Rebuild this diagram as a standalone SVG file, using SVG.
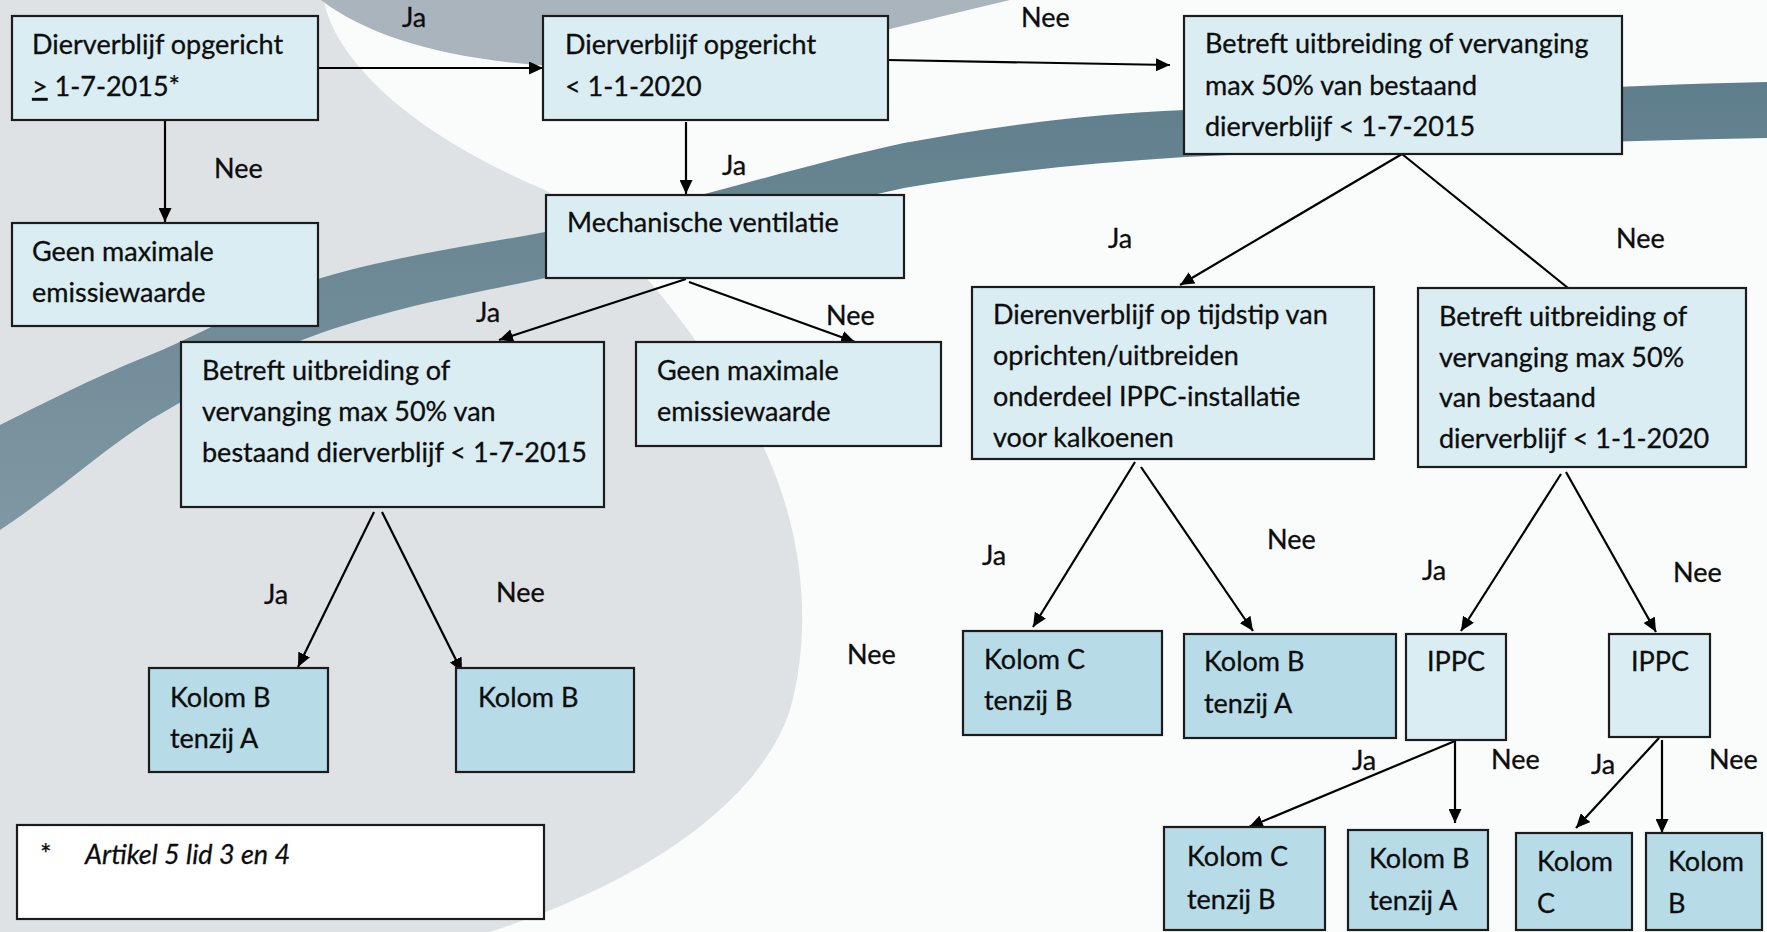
<svg xmlns="http://www.w3.org/2000/svg" width="1767" height="932" viewBox="0 0 1767 932">
<style>
.t{font-family:Lato,"Liberation Sans",sans-serif;font-size:27px;fill:#0d0d0d;stroke:#0d0d0d;stroke-width:0.3}
.it{font-style:italic}
.bx{fill:#daedf3;stroke:#1c1c1c;stroke-width:2.2}
.dk{fill:#b7dce7;stroke:#1c1c1c;stroke-width:2.2}
.fn{fill:#ffffff;stroke:#1c1c1c;stroke-width:2.2}
.c{stroke:#000;stroke-width:2.2;fill:none}
.a{marker-end:url(#ah)}
</style>
<defs>
<marker id="ah" markerWidth="15" markerHeight="13" refX="14" refY="6.5" orient="auto" markerUnits="userSpaceOnUse"><path d="M0,0 L14,6.5 L0,13 Z" fill="#000"/></marker>
<linearGradient id="band" x1="0" y1="0" x2="0" y2="1"><stop offset="0" stop-color="#5f7e8b"/><stop offset="1" stop-color="#7f98a3"/></linearGradient>
</defs>
<g id="background">
<rect x="0" y="0" width="1767" height="932" fill="#fafbfb"/>
<path d="M0,0 H324 C330,40 380,120 545,190 C630,240 700,340 760,440 C800,520 815,620 790,710 C760,800 650,880 490,932 H0 Z" fill="#dfe2e5"/>
<path d="M321,0 C380,45 480,68 620,68 C760,68 880,30 1010,0 Z" fill="#aab4bc"/>
<path d="M0,425 C60,395 100,375 150,355 C210,330 260,300 321,278 C400,255 470,246 545,232 C680,205 800,165 904,143 C1000,125 1090,114 1185,110 C1380,100 1580,86 1767,82 L1767,138 C1580,142 1380,148 1185,157 C1090,163 1000,172 904,188 C800,210 680,250 545,278 C470,294 400,306 321,333 C260,355 210,385 150,420 C100,452 60,490 0,530 Z" fill="url(#band)"/>
</g>
<g id="connectors">
<line class="c a" x1="318" y1="68" x2="543" y2="68"/>
<line class="c a" x1="165" y1="120" x2="165" y2="222"/>
<line class="c a" x1="888" y1="60" x2="1170" y2="65"/>
<line class="c a" x1="686" y1="122" x2="686" y2="194"/>
<line class="c a" x1="686" y1="279" x2="499" y2="340"/>
<line class="c a" x1="689" y1="282" x2="855" y2="342"/>
<line class="c a" x1="1402" y1="154" x2="1180" y2="285"/>
<line class="c" x1="1402" y1="154" x2="1568" y2="288"/>
<line class="c a" x1="374" y1="512" x2="298" y2="667"/>
<line class="c a" x1="382" y1="512" x2="462" y2="672"/>
<line class="c a" x1="1135" y1="462" x2="1033" y2="627"/>
<line class="c a" x1="1141" y1="467" x2="1253" y2="631"/>
<line class="c a" x1="1561" y1="474" x2="1461" y2="631"/>
<line class="c a" x1="1566" y1="472" x2="1656" y2="632"/>
<line class="c a" x1="1455" y1="741" x2="1249" y2="827"/>
<line class="c a" x1="1455" y1="741" x2="1455" y2="823"/>
<line class="c a" x1="1659" y1="738" x2="1576" y2="828"/>
<line class="c a" x1="1662" y1="740" x2="1662" y2="833"/>
</g>
<g id="labels">
<text class="t" x="402" y="27">Ja</text>
<text class="t" x="214" y="178">Nee</text>
<text class="t" x="1021" y="27">Nee</text>
<text class="t" x="722" y="175">Ja</text>
<text class="t" x="476" y="322">Ja</text>
<text class="t" x="826" y="325">Nee</text>
<text class="t" x="1108" y="248">Ja</text>
<text class="t" x="1616" y="248">Nee</text>
<text class="t" x="264" y="604">Ja</text>
<text class="t" x="496" y="602">Nee</text>
<text class="t" x="847" y="664">Nee</text>
<text class="t" x="982" y="565">Ja</text>
<text class="t" x="1267" y="549">Nee</text>
<text class="t" x="1422" y="580">Ja</text>
<text class="t" x="1673" y="582">Nee</text>
<text class="t" x="1352" y="770">Ja</text>
<text class="t" x="1491" y="769">Nee</text>
<text class="t" x="1591" y="774">Ja</text>
<text class="t" x="1709" y="769">Nee</text>
</g>
<g id="n1"><rect class="bx" x="12" y="16" width="306" height="104"/>
<text class="t" x="32" y="54">Dierverblijf opgericht</text>
<text class="t" x="32" y="96"><tspan text-decoration="underline">&gt;</tspan> 1-7-2015*</text></g>
<g id="n2"><rect class="bx" x="543" y="16" width="345" height="104"/>
<text class="t" x="565" y="54">Dierverblijf opgericht</text>
<text class="t" x="565" y="96">&lt; 1-1-2020</text></g>
<g id="n3"><rect class="bx" x="1184" y="16" width="438" height="138"/>
<text class="t" x="1205" y="53">Betreft uitbreiding of vervanging</text>
<text class="t" x="1205" y="95">max 50% van bestaand</text>
<text class="t" x="1205" y="136">dierverblijf &lt; 1-7-2015</text></g>
<g id="n4"><rect class="bx" x="12" y="223" width="306" height="103"/>
<text class="t" x="32" y="261">Geen maximale</text>
<text class="t" x="32" y="302">emissiewaarde</text></g>
<g id="n5"><rect class="bx" x="546" y="195" width="358" height="83"/>
<text class="t" x="567" y="232">Mechanische ventilatie</text></g>
<g id="n6"><rect class="bx" x="181" y="342" width="423" height="165"/>
<text class="t" x="202" y="380">Betreft uitbreiding of</text>
<text class="t" x="202" y="421">vervanging max 50% van</text>
<text class="t" x="202" y="462">bestaand dierverblijf &lt; 1-7-2015</text></g>
<g id="n7"><rect class="bx" x="636" y="342" width="305" height="104"/>
<text class="t" x="657" y="380">Geen maximale</text>
<text class="t" x="657" y="421">emissiewaarde</text></g>
<g id="n8"><rect class="bx" x="972" y="287" width="402" height="172"/>
<text class="t" x="993" y="324">Dierenverblijf op tijdstip van</text>
<text class="t" x="993" y="365">oprichten/uitbreiden</text>
<text class="t" x="993" y="406">onderdeel IPPC-installatie</text>
<text class="t" x="993" y="447">voor kalkoenen</text></g>
<g id="n9"><rect class="bx" x="1418" y="288" width="328" height="179"/>
<text class="t" x="1439" y="326">Betreft uitbreiding of</text>
<text class="t" x="1439" y="367">vervanging max 50%</text>
<text class="t" x="1439" y="407">van bestaand</text>
<text class="t" x="1439" y="448">dierverblijf &lt; 1-1-2020</text></g>
<g id="n10"><rect class="dk" x="149" y="668" width="179" height="104"/>
<text class="t" x="170" y="707">Kolom B</text>
<text class="t" x="170" y="748">tenzij A</text></g>
<g id="n11"><rect class="dk" x="456" y="668" width="178" height="104"/>
<text class="t" x="478" y="707">Kolom B</text></g>
<g id="n12"><rect class="dk" x="963" y="631" width="199" height="104"/>
<text class="t" x="984" y="669">Kolom C</text>
<text class="t" x="984" y="710">tenzij B</text></g>
<g id="n13"><rect class="dk" x="1184" y="634" width="212" height="104"/>
<text class="t" x="1204" y="671">Kolom B</text>
<text class="t" x="1204" y="713">tenzij A</text></g>
<g id="n14"><rect class="bx" x="1406" y="634" width="100" height="106"/>
<text class="t" x="1427" y="671">IPPC</text></g>
<g id="n15"><rect class="bx" x="1609" y="634" width="101" height="103"/>
<text class="t" x="1631" y="671">IPPC</text></g>
<g id="n16"><rect class="dk" x="1164" y="827" width="161" height="103"/>
<text class="t" x="1187" y="866">Kolom C</text>
<text class="t" x="1187" y="909">tenzij B</text></g>
<g id="n17"><rect class="dk" x="1348" y="830" width="140" height="100"/>
<text class="t" x="1369" y="868">Kolom B</text>
<text class="t" x="1369" y="910">tenzij A</text></g>
<g id="n18"><rect class="dk" x="1516" y="833" width="116" height="97"/>
<text class="t" x="1537" y="871">Kolom</text>
<text class="t" x="1537" y="913">C</text></g>
<g id="n19"><rect class="dk" x="1646" y="833" width="116" height="97"/>
<text class="t" x="1668" y="871">Kolom</text>
<text class="t" x="1668" y="913">B</text></g>
<g id="footnote"><rect class="fn" x="17" y="825" width="527" height="94"/>
<text class="t" x="40" y="864">*</text>
<text class="t it" x="85" y="864">Artikel 5 lid 3 en 4</text></g>
</svg>
